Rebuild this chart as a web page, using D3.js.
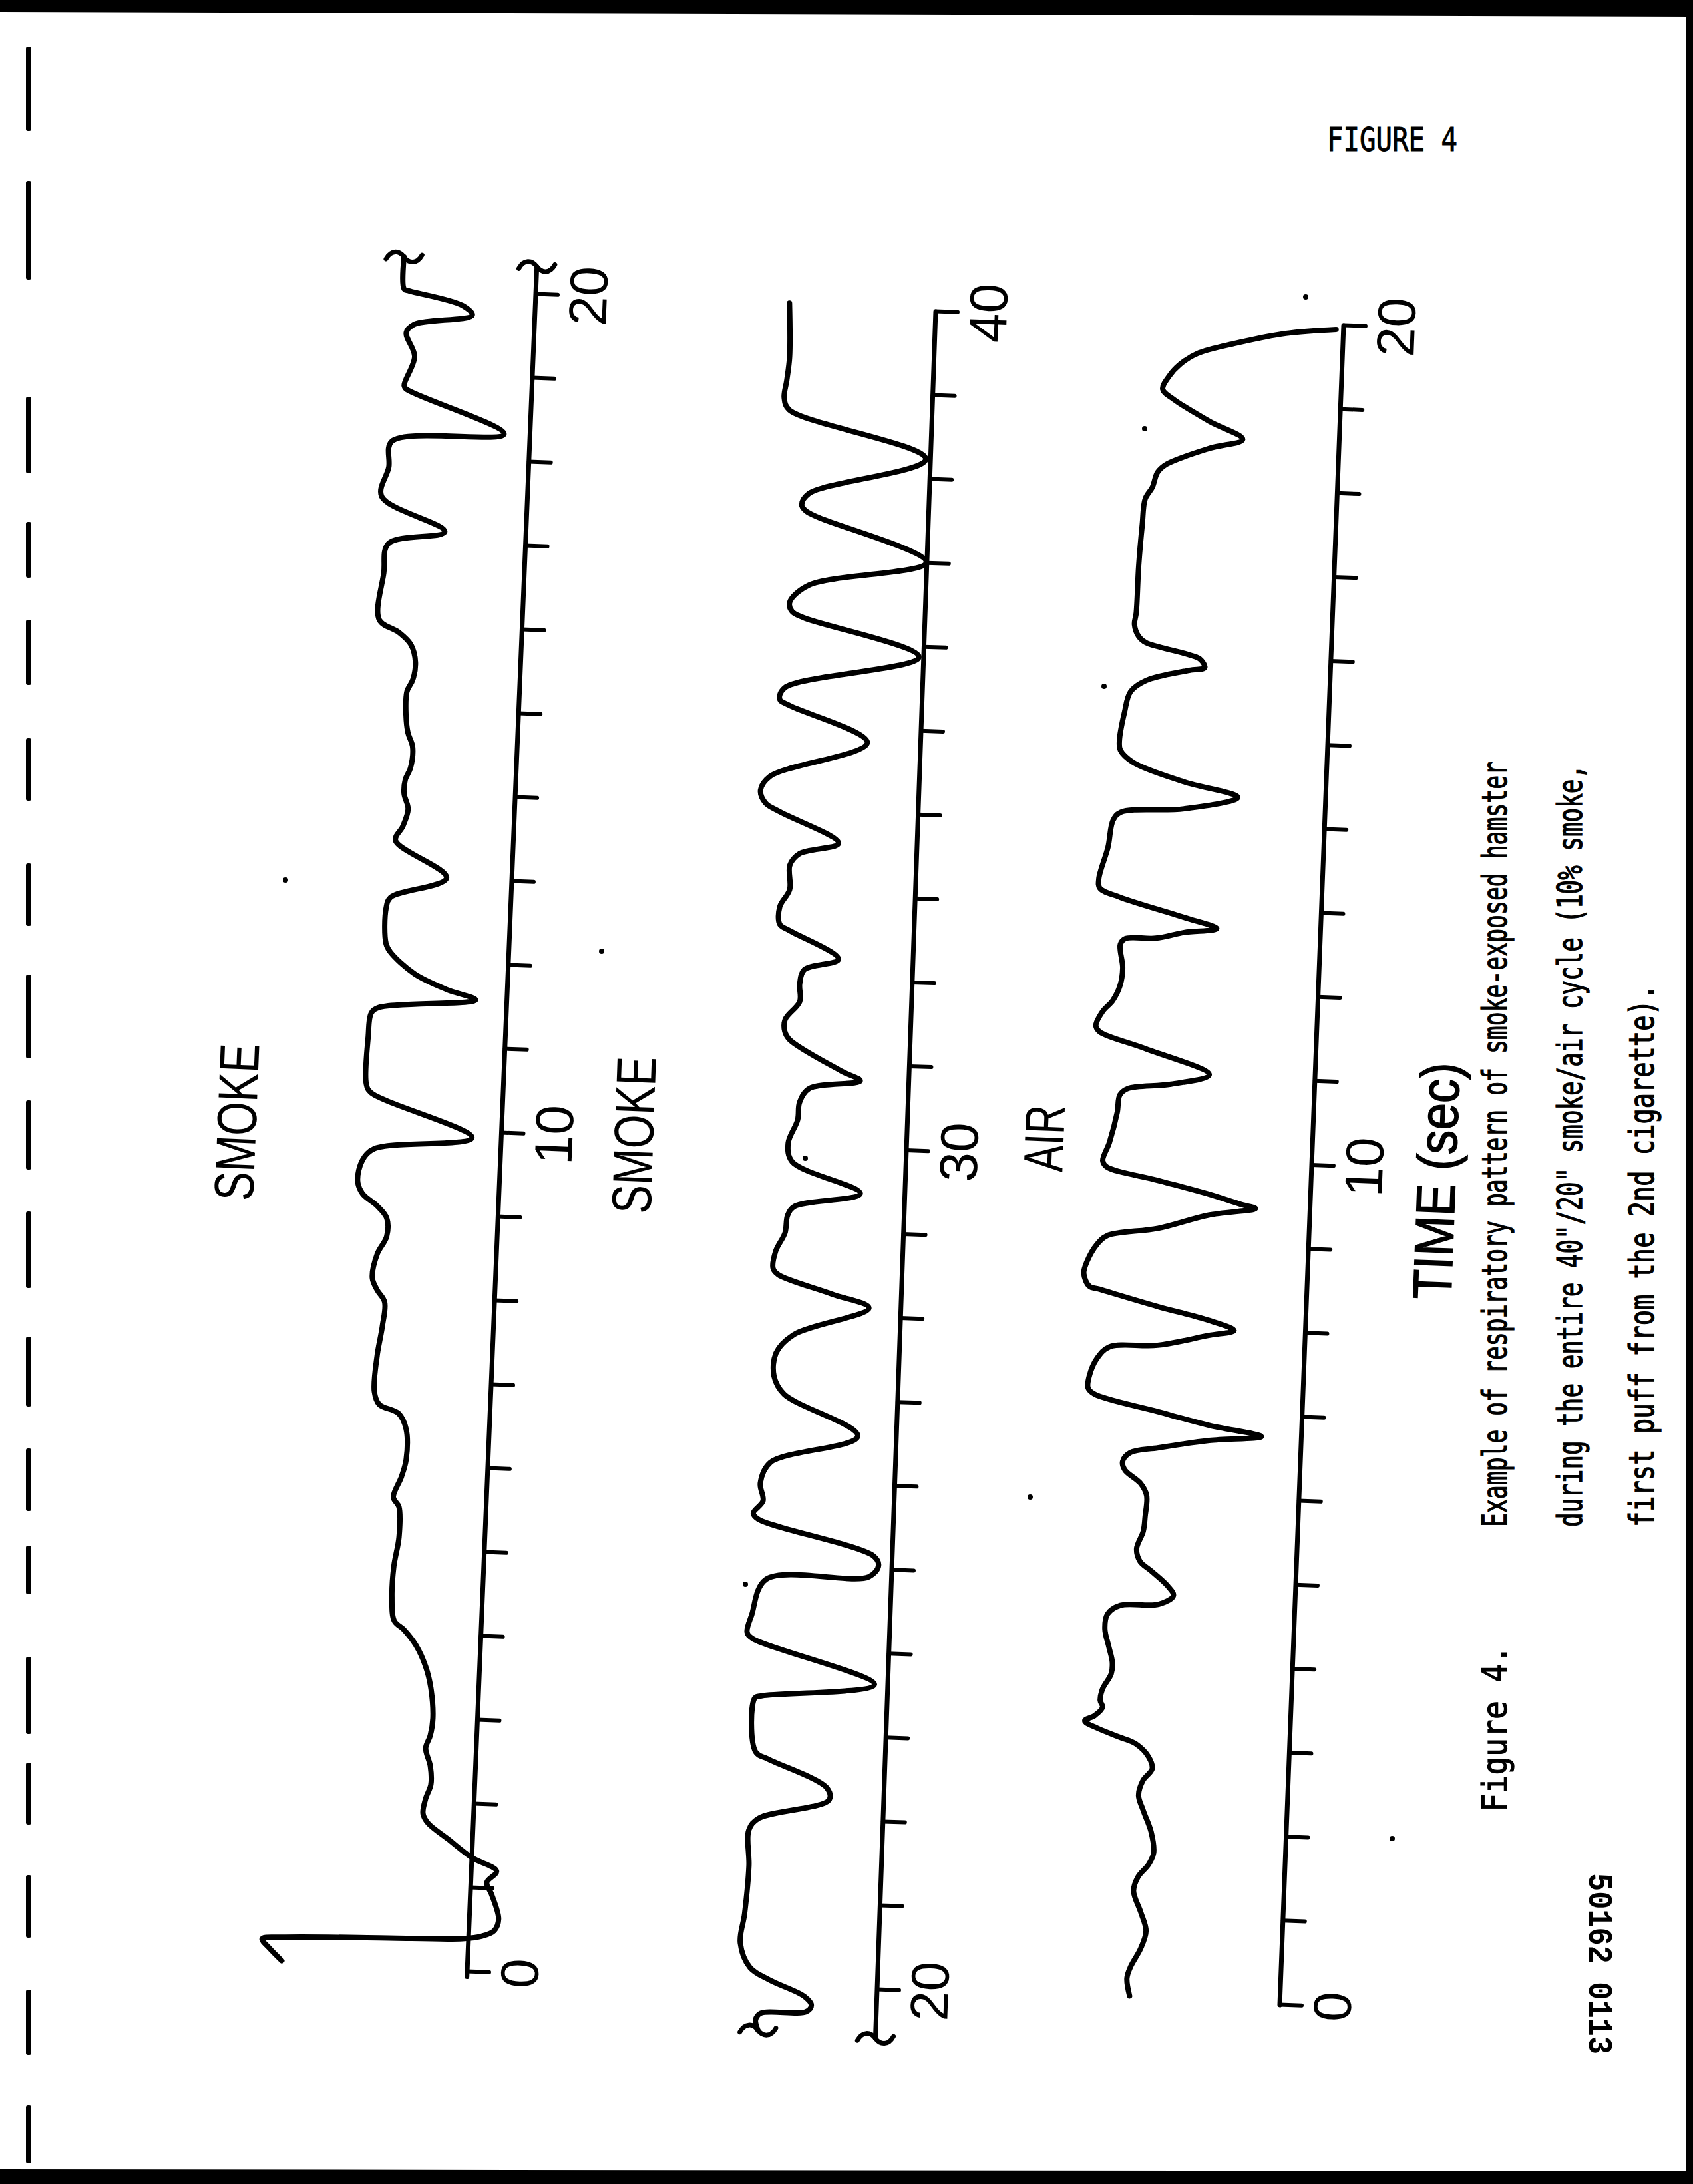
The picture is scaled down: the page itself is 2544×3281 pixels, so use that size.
<!DOCTYPE html>
<html><head><meta charset="utf-8">
<script src="https://cdn.jsdelivr.net/npm/d3@7"></script>
<style>html,body{margin:0;padding:0;background:#fff;}svg{display:block}</style>
</head><body>
<script>
// ---------------- DATA ----------------
// respiratory traces: [time (s), amplitude (arbitrary units, distance from time axis)]
const trace1 = [[0.04,279],[0.18,298],[0.29,310],[0.32,280],[0.36,134],[0.39,9],[0.43,-20],[0.50,-38],[0.64,-44],[0.93,-32],[1.07,-24],[1.21,-38],[1.36,0],[1.57,37],[1.75,68],[1.86,76],[2.04,73],[2.21,66],[2.43,68],[2.64,76],[2.79,70],[3.00,67],[3.36,72],[3.61,81],[3.86,97],[4.04,116],[4.14,131],[4.43,136],[4.79,135],[5.14,129],[5.50,131],[5.61,140],[5.86,129],[6.07,123],[6.43,125],[6.61,137],[6.71,167],[6.86,175],[7.29,173],[7.64,167],[7.93,165],[8.07,177],[8.21,185],[8.50,179],[8.71,166],[8.93,167],[9.07,182],[9.21,205],[9.36,213],[9.61,207],[9.75,190],[9.93,44],[10.42,199],[10.52,206],[11.08,206],[11.36,203],[11.43,193],[11.57,47],[11.68,91],[11.85,140],[12.10,178],[12.20,185],[12.62,187],[12.75,181],[13.01,98],[13.43,177],[13.60,167],[13.81,160],[13.99,167],[14.16,166],[14.30,159],[14.55,157],[14.72,165],[14.93,169],[15.21,169],[15.35,161],[15.56,158],[15.77,166],[15.91,185],[16.05,215],[16.61,211],[16.96,206],[17.13,122],[17.52,219],[17.87,210],[18.18,207],[18.32,39],[18.81,189],[18.85,192],[19.20,178],[19.48,192],[19.58,181],[19.72,94],[19.83,109],[19.98,191],[20.00,198],[20.38,200]];

const trace2 = [[19.47,177],[19.59,181],[19.67,174],[19.71,105],[19.79,98],[19.89,109],[20.07,162],[20.21,192],[20.50,208],[20.85,203],[21.42,199],[21.85,201],[21.99,187],[22.24,82],[22.38,86],[22.70,176],[22.78,195],[23.42,199],[23.45,188],[23.63,20],[24.13,206],[24.20,214],[24.41,208],[24.84,188],[24.91,34],[25.05,20],[25.16,28],[25.55,203],[25.62,211],[25.77,197],[25.98,202],[26.23,188],[26.58,58],[27.05,171],[27.26,187],[27.54,185],[27.76,160],[28.11,48],[28.26,104],[28.47,186],[28.54,194],[28.75,191],[28.97,178],[29.18,175],[29.29,165],[29.47,67],[29.82,171],[30.04,178],[30.32,165],[30.53,163],[30.70,149],[30.81,73],[30.92,102],[31.27,181],[31.37,189],[31.51,189],[31.73,168],[31.94,169],[32.11,163],[32.25,112],[32.57,187],[32.64,202],[32.85,203],[33.06,189],[33.35,190],[33.49,176],[33.63,118],[33.98,208],[34.08,230],[34.23,238],[34.40,224],[34.84,80],[35.25,199],[35.32,214],[35.46,207],[35.88,7],[36.30,182],[36.37,200],[36.48,204],[36.69,176],[37.01,1],[37.50,165],[37.57,184],[37.64,191],[37.78,181],[38.24,7],[38.77,215],[38.91,223],[39.12,220],[39.40,217],[40.04,220]];

const trace3 = [[0.04,226],[0.25,231],[0.39,226],[0.61,212],[0.82,205],[1.04,214],[1.29,226],[1.46,220],[1.61,205],[1.75,198],[2.00,203],[2.25,216],[2.43,224],[2.61,218],[2.75,205],[2.89,211],[3.04,231],[3.11,255],[3.21,290],[3.29,309],[3.36,294],[3.46,283],[3.54,287],[3.68,284],[3.86,272],[4.00,271],[4.18,277],[4.39,284],[4.57,281],[4.68,262],[4.71,205],[4.82,183],[4.93,192],[5.11,219],[5.21,235],[5.36,241],[5.57,232],[5.75,230],[6.00,229],[6.14,239],[6.29,263],[6.39,267],[6.50,256],[6.57,214],[6.68,138],[6.75,60],[6.86,139],[7.00,217],[7.18,313],[7.25,323],[7.39,322],[7.61,311],[7.75,293],[7.79,221],[7.93,145],[8.00,107],[8.11,146],[8.25,223],[8.43,312],[8.46,327],[8.61,336],[8.75,332],[8.96,318],[9.07,303],[9.18,227],[9.36,152],[9.46,82],[9.50,103],[9.61,153],[9.75,230],[9.89,308],[9.96,314],[10.18,305],[10.54,295],[10.75,292],[10.83,280],[10.90,216],[11.03,159],[11.31,256],[11.49,326],[11.56,332],[11.73,323],[11.87,308],[12.05,298],[12.26,295],[12.54,300],[12.61,293],[12.63,247],[12.71,205],[12.77,156],[12.89,206],[13.10,303],[13.20,334],[13.31,336],[13.69,324],[14.01,318],[14.11,307],[14.18,212],[14.34,132],[14.50,213],[14.71,291],[14.85,311],[14.95,313],[15.30,307],[15.55,299],[15.69,276],[15.83,212],[15.87,189],[15.97,197],[16.03,221],[16.14,279],[16.21,290],[16.35,297],[16.49,295],[17.05,294],[17.54,291],[17.85,288],[17.99,278],[18.17,271],[18.27,258],[18.48,194],[18.60,145],[18.80,196],[19.04,250],[19.16,268],[19.32,259],[19.46,244],[19.60,218],[19.74,161],[19.88,86],[19.95,11]];

// time axes (seconds)
const timeDomains = [[0,20],[20,40],[0,20]];
const axisExtents = [[-0.06,20.33],[19.42,40],[0,20]];
const tickStep = 1;
const labelEvery = 10;
const panelLabels = ["SMOKE","SMOKE","AIR"];
const panelLabelPos = [[10.0,398],[30.07,410],[10.2,403]];   // [time, amplitude]
const axisTitle = "TIME (sec)";
const axisTitlePos = [9.87,-188];
const figureTitle = "FIGURE 4";
const captionHead = "Figure 4.";
const captionLines = [
  "Example of respiratory pattern of smoke-exposed hamster",
  "during the entire 40\"/20\" smoke/air cycle (10% smoke,",
  "first puff from the 2nd cigarette)."
];
const docNumber = "50162 0113";

// ---------------- LAYOUT ----------------
const W = 2544, H = 3281;
const panelGeom = [
  {x0:702, y0:2962, x1:805, y1:442},
  {x0:1318,y0:2989, x1:1406,y1:468},
  {x0:1923,y0:3012, x1:2019,y1:489}
];
const traces = [trace1, trace2, trace3];
// break (~) marks: [panel, time, amplitude]
const breakMarks = [[0,20.33,0],[0,20.38,200],[1,19.42,0],[1,19.47,177]];

const svg = d3.select("body").append("svg").attr("width",W).attr("height",H);
svg.append("rect").attr("width",W).attr("height",H).attr("fill","#fff");

// scan borders
svg.append("path").attr("d",`M0,0 L${W},0 L${W},25 L0,18 Z`).attr("fill","#000");
svg.append("path").attr("d",`M0,3259 L${W},3262 L${W},${H} L0,${H} Z`).attr("fill","#000");
svg.append("rect").attr("x",2534).attr("y",0).attr("width",10).attr("height",H).attr("fill","#000");
// left margin marks
const marginMarks = [[70,197],[272,420],[596,711],[784,868],[931,1029],[1109,1203],[1297,1391],[1464,1590],[1653,1757],[1820,1935],[2008,2113],[2176,2270],[2322,2395],[2489,2605],[2648,2741],[2817,2911],[2989,3087],[3163,3250]];
svg.append("g").selectAll("rect").data(marginMarks).join("rect")
  .attr("x",39).attr("width",8).attr("y",d=>d[0]).attr("height",d=>d[1]-d[0]).attr("rx",3).attr("fill","#000");
// scan specks
const specks = [[429,1322],[904,1429],[1548,2249],[1659,1031],[1720,644],[1962,446],[2092,2762],[1120,2380],[1210,1740]];
svg.append("g").selectAll("circle").data(specks).join("circle")
  .attr("cx",d=>d[0]).attr("cy",d=>d[1]).attr("r",4).attr("fill","#000");

const sansFont = "'Liberation Sans', Arial, sans-serif";
const monoFont = "'DejaVu Sans Mono', 'Liberation Mono', monospace";

panelGeom.forEach((g,i)=>{
  const dx=g.x1-g.x0, dy=g.y1-g.y0;
  const L=Math.hypot(dx,dy), ang=Math.atan2(dy,dx)*180/Math.PI;
  const gp = svg.append("g").attr("transform",`translate(${g.x0},${g.y0}) rotate(${ang})`);
  const x = d3.scaleLinear().domain(timeDomains[i]).range([0,L]);
  const y = d3.scaleLinear().domain([0,100]).range([0,-100]);

  const ticks = d3.range(timeDomains[i][0], timeDomains[i][1]+tickStep/2, tickStep);
  const axis = d3.axisBottom(x).tickValues(ticks).tickSize(33).tickPadding(17)
     .tickFormat(d => d % labelEvery === 0 ? String(d) : "");
  const ag = gp.append("g").call(axis);
  ag.select(".domain").remove();
  ag.selectAll(".tick line").attr("stroke","#000").attr("stroke-width",6).attr("stroke-linecap","round");
  ag.selectAll(".tick text").attr("fill","#000").attr("font-size",80).attr("font-family",sansFont);

  gp.append("line").attr("x1",x(axisExtents[i][0])).attr("x2",x(axisExtents[i][1]))
    .attr("y1",y(0)).attr("y2",y(0)).attr("stroke","#000").attr("stroke-width",7).attr("stroke-linecap","round");

  const line = d3.line().x(d=>x(d[0])).y(d=>y(d[1])).curve(d3.curveCatmullRom.alpha(0.5));
  gp.append("path").datum(traces[i]).attr("d",line).attr("fill","none")
    .attr("stroke","#000").attr("stroke-width",8).attr("stroke-linejoin","round").attr("stroke-linecap","round");

  breakMarks.filter(b=>b[0]===i).forEach(b=>{
    const px=x(b[1]), py=y(b[2]);
    gp.append("path").attr("d",`M${px-4},${py-27} C${px+10},${py-20} ${px+10},${py-8} ${px},${py} C${px-10},${py+8} ${px-10},${py+20} ${px+4},${py+27}`)
      .attr("fill","none").attr("stroke","#000").attr("stroke-width",7).attr("stroke-linecap","round");
  });

  const lp = panelLabelPos[i];
  gp.append("text").attr("x",x(lp[0])).attr("y",y(lp[1])).attr("text-anchor","middle")
    .attr("dominant-baseline","central").attr("font-family",sansFont).attr("font-size",84)
    .attr("textLength", panelLabels[i]==="AIR"?100:236).attr("lengthAdjust","spacingAndGlyphs")
    .text(panelLabels[i]);
  if(i===2){
    gp.append("text").attr("x",x(axisTitlePos[0])).attr("y",y(axisTitlePos[1])).attr("text-anchor","middle")
      .attr("dominant-baseline","central").attr("font-family",sansFont).attr("font-size",82)
      .attr("stroke","#000").attr("stroke-width",1.5)
      .attr("textLength",356).attr("lengthAdjust","spacingAndGlyphs").text(axisTitle);
  }
});

// figure title
svg.append("text").attr("x",1994).attr("y",227).attr("font-family",monoFont).attr("font-size",50)
  .attr("stroke","#000").attr("stroke-width",1)
  .attr("textLength",196).attr("lengthAdjust","spacingAndGlyphs").text(figureTitle);

// caption (rotated)
const capG = svg.append("g").attr("font-family",monoFont).attr("font-size",52).attr("fill","#000")
  .attr("stroke","#000").attr("stroke-width",1.3);
capG.append("text").attr("transform","translate(2264,2722) rotate(-90)")
  .attr("textLength",250).attr("lengthAdjust","spacingAndGlyphs").text(captionHead);
const capBase = [2264, 2377, 2485];
const capLen = [1150, 1145, 815];
captionLines.forEach((t,k)=>{
  capG.append("text").attr("transform",`translate(${capBase[k]},2294) rotate(-90)`)
    .attr("textLength",capLen[k]).attr("lengthAdjust","spacingAndGlyphs").text(t);
});

// document number
svg.append("text").attr("transform","translate(2388,2814) rotate(90)")
  .attr("font-family","'Liberation Mono', monospace").attr("font-weight","bold").attr("font-size",52)
  .attr("textLength",272).attr("lengthAdjust","spacingAndGlyphs").text(docNumber);
</script>
</body></html>
